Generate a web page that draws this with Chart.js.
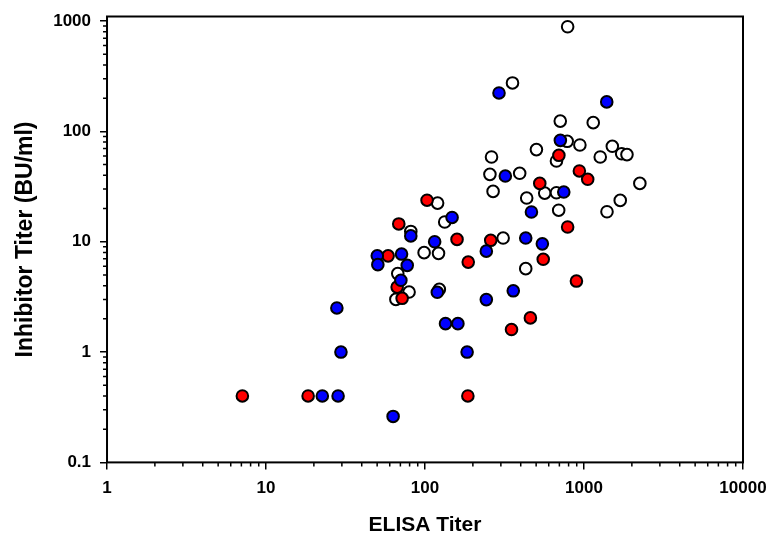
<!DOCTYPE html>
<html>
<head>
<meta charset="utf-8">
<script src="https://cdn.jsdelivr.net/npm/chart.js@4"></script>
<style>
  html, body { margin: 0; padding: 0; background: #fff; }
</style>
</head>
<body>
<canvas id="c" width="770" height="538"></canvas>
<script>
// axis ticks
const xTicks = [1, 10, 100, 1000, 10000];
const yTicks = [0.1, 1, 10, 100, 1000];

// open circles
const openX = [789, 355, 709, 1143, 784, 942, 502, 671, 1507, 1265, 1726, 1863, 262, 256, 394, 268, 2245, 1690, 1395, 566, 671, 436, 693, 120, 133, 98.7, 121.6, 310, 430, 67.4, 79.4, 65.6, 81.4, 123];
const openY = [888, 275, 124, 120, 81.3, 75.3, 68.4, 53.9, 73.3, 58.6, 62.7, 61.6, 58.6, 40.8, 41.7, 28.6, 33.8, 23.7, 18.7, 27.6, 27.8, 24.9, 19.3, 22.4, 15.1, 7.96, 7.85, 10.8, 5.7, 5.14, 3.5, 3.0, 12.4, 3.7];

// red circles
const redX = [7.1, 18.4, 58.6, 68.4, 66.8, 71.8, 103, 159, 187, 186, 259, 350, 460, 527, 554, 695, 789, 896, 935, 1055];
const redY = [0.4, 0.4, 7.45, 14.5, 3.88, 3.07, 23.8, 10.5, 6.54, 0.4, 10.3, 1.6, 2.04, 33.8, 6.93, 60.7, 13.6, 4.4, 43.8, 36.8];

// blue circles
const blueX = [22.6, 28.4, 27.9, 29.6, 63, 50.1, 50.5, 71.2, 77.3, 70.5, 81.4, 115, 148, 119.5, 134.6, 161, 184, 243, 243, 292, 320, 359, 430, 467, 547, 710, 746, 1390];
const blueY = [0.4, 0.4, 2.51, 1.0, 0.261, 7.45, 6.2, 7.73, 6.11, 4.47, 11.3, 10.0, 16.6, 3.48, 1.81, 1.81, 1.0, 8.22, 2.99, 223, 39.4, 3.59, 10.8, 18.6, 9.57, 83, 28.2, 185];

const pts = (xs, ys) => xs.map((x, i) => ({ x: x, y: ys[i] }));
const FONT = "'Liberation Sans', Arial, sans-serif";

// minor ticks + box frame
const frame = {
  id: "frame",
  beforeDatasetsDraw(chart) {
    const { ctx, chartArea: a, scales } = chart;
    ctx.save();
    ctx.strokeStyle = "#000";
    ctx.lineWidth = 1.5;
    ctx.beginPath();
    for (const d of xTicks.slice(0, -1)) {
      for (let k = 2; k < 10; k++) {
        const px = scales.x.getPixelForValue(k * d);
        ctx.moveTo(px, a.bottom);
        ctx.lineTo(px, a.bottom + 4);
      }
    }
    for (const d of yTicks.slice(0, -1)) {
      for (let k = 2; k < 10; k++) {
        const py = scales.y.getPixelForValue(k * d);
        ctx.moveTo(a.left - 4, py);
        ctx.lineTo(a.left, py);
      }
    }
    ctx.stroke();
    ctx.lineWidth = 2;
    ctx.strokeRect(a.left, a.top, a.right - a.left, a.bottom - a.top);
    ctx.restore();
  },
};

const dot = (label, data, color, order) => ({
  label: label,
  data: data,
  order: order,
  backgroundColor: color,
  borderColor: "#000",
  borderWidth: 2,
  pointRadius: 5.8,
  pointHoverRadius: 5.8,
});

// let the layout padding decide the plot edges, not label overhang
const noOverhang = (s) => {
  s.paddingLeft = 0;
  s.paddingRight = 0;
  s.paddingTop = 0;
  s.paddingBottom = 0;
};

new Chart(document.getElementById("c"), {
  type: "scatter",
  data: {
    datasets: [
      dot("blue", pts(blueX, blueY), "#0000ff", 0),
      dot("red", pts(redX, redY), "#ff0000", 1),
      dot("open", pts(openX, openY), "#ffffff", 2),
    ],
  },
  options: {
    responsive: false,
    animation: false,
    layout: { padding: { left: 11.6, right: 27, top: 16.5, bottom: 0 } },
    plugins: { legend: { display: false }, tooltip: { enabled: false } },
    scales: {
      x: {
        type: "logarithmic",
        min: 1,
        max: 10000,
        afterBuildTicks: (s) => { s.ticks = xTicks.map((v) => ({ value: v })); },
        afterFit: noOverhang,
        ticks: {
          callback: (v) => String(v),
          autoSkip: false,
          maxRotation: 0,
          padding: 9,
          color: "#000",
          font: { family: FONT, size: 17, weight: "bold" },
        },
        grid: { drawOnChartArea: false, color: "#000", lineWidth: 1.5, tickLength: 7 },
        border: { display: false },
        title: {
          display: true,
          text: "ELISA Titer",
          color: "#000",
          padding: { top: 5, bottom: 0 },
          font: { family: FONT, size: 21, weight: "bold" },
        },
      },
      y: {
        type: "logarithmic",
        min: 0.1,
        max: 1100,
        afterBuildTicks: (s) => { s.ticks = yTicks.map((v) => ({ value: v })); },
        afterFit: noOverhang,
        ticks: {
          callback: (v) => String(v),
          autoSkip: false,
          padding: 9,
          color: "#000",
          font: { family: FONT, size: 17, weight: "bold" },
        },
        grid: { drawOnChartArea: false, color: "#000", lineWidth: 1.5, tickLength: 7 },
        border: { display: false },
        title: {
          display: true,
          text: "Inhibitor Titer (BU/ml)",
          color: "#000",
          padding: { top: 0, bottom: 5 },
          font: { family: FONT, size: 23, weight: "bold" },
        },
      },
    },
  },
  plugins: [frame],
});
</script>
</body>
</html>
